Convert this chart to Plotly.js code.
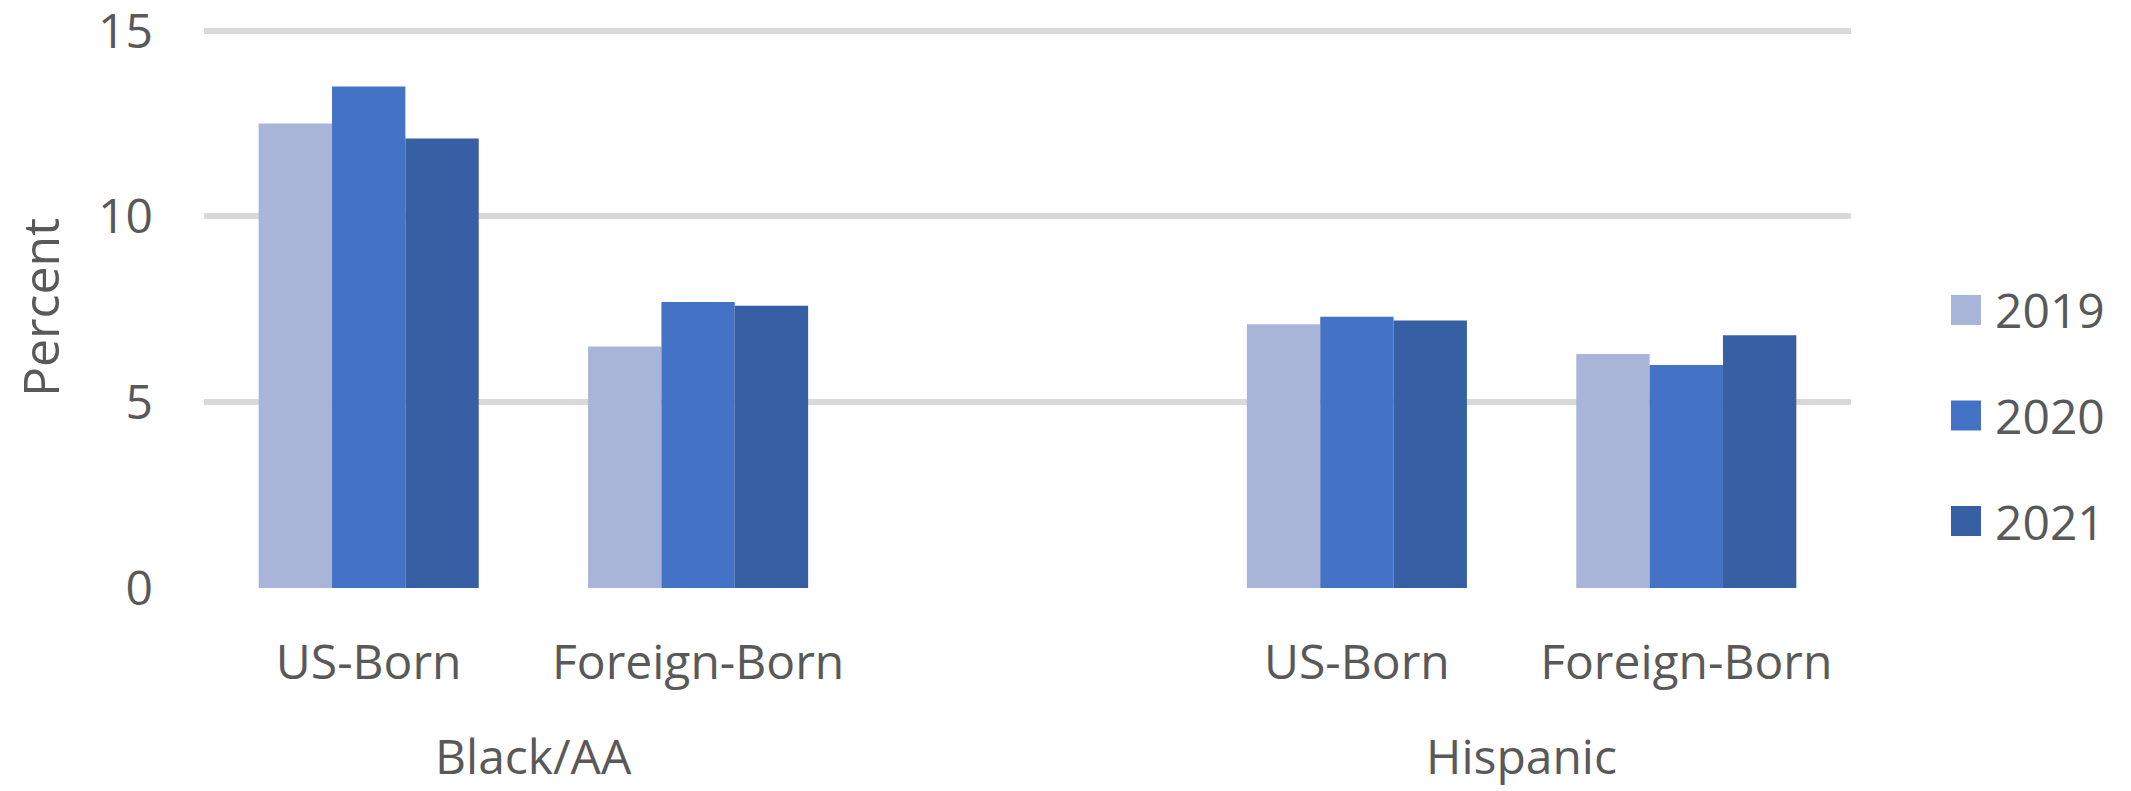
<!DOCTYPE html>
<html><head><meta charset="utf-8">
<script src="https://cdn.plot.ly/plotly-3.0.1.min.js"></script>
<style>html,body{margin:0;padding:0;background:#fff;}#chart{width:2131px;height:791px;}</style>
</head><body><div id="chart"></div>
<script>
// ---- data ----
const groups = ["Black/AA", "Hispanic"];
const subgroups = ["US-Born", "Foreign-Born"];
const years = ["2019", "2020", "2021"];
// order: Black/AA US-Born, Black/AA Foreign-Born, Hispanic US-Born, Hispanic Foreign-Born
const values2019 = [12.5, 6.5, 7.1, 6.3];
const values2020 = [13.5, 7.7, 7.3, 6.0];
const values2021 = [12.1, 7.6, 7.2, 6.8];
const yTickValues = [0, 5, 10, 15];
const yAxisLabel = "Percent";

// ---- styles ----
const colors = ["#a8b5d9", "#4472c4", "#375fa3"];
const textColor = "#595959";
const fontFamily = "'Open Sans', 'Noto Sans', sans-serif";
const fontSize = 48;

// build categories with a blank spacer between groups
const SPACER = " ";
const categories = [];
const realKeys = [];
const realLabels = [];
const groupIndex = {};
groups.forEach((g, gi) => {
  if (gi > 0) categories.push(SPACER);
  groupIndex[g] = [];
  subgroups.forEach(s => {
    const key = g + "|" + s;
    groupIndex[g].push(categories.length);
    categories.push(key);
    realKeys.push(key);
    realLabels.push(s);
  });
});
function expand(vals) {
  const out = [];
  let k = 0;
  categories.forEach(c => { out.push(c === SPACER ? null : vals[k++]); });
  return out;
}
const seriesValues = [values2019, values2020, values2021];
const traces = years.map((yr, i) => ({
  type: "bar",
  name: yr,
  x: categories,
  y: expand(seriesValues[i]),
  marker: { color: colors[i], line: { width: 0 } },
  showlegend: false,
  hoverinfo: "x+y+name"
}));

const W = 2131, H = 791;
const margin = { l: 204, r: 280, t: 27, b: 203, pad: 0 };
const plotW = W - margin.l - margin.r;
const plotH = H - margin.t - margin.b;

const annotations = groups.map(g => {
  const idx = groupIndex[g];
  return {
    text: g, xref: "x", yref: "paper",
    x: idx.reduce((a, b) => a + b, 0) / idx.length,
    y: -(755 - (margin.t + plotH)) / plotH,
    xanchor: "center", yanchor: "middle", showarrow: false,
    font: { family: fontFamily, size: fontSize, color: textColor }
  };
});

// custom legend (large swatches)
const shapes = [];
years.forEach((yr, i) => {
  const cy = 310 + i * 105.5;
  const yPaper = (margin.t + plotH - cy) / plotH;
  shapes.push({
    type: "rect", xref: "paper", yref: "paper",
    xsizemode: "pixel", ysizemode: "pixel",
    xanchor: (1951 - margin.l) / plotW, yanchor: yPaper,
    x0: 0, x1: 30, y0: -15, y1: 15,
    fillcolor: colors[i], line: { width: 0 }
  });
  annotations.push({
    text: yr, xref: "paper", yref: "paper",
    x: (1993 - margin.l) / plotW, y: yPaper,
    xanchor: "left", yanchor: "middle", showarrow: false,
    font: { family: fontFamily, size: fontSize, color: textColor }
  });
});

const layout = {
  width: W, height: H, margin: margin,
  paper_bgcolor: "#ffffff", plot_bgcolor: "#ffffff",
  font: { family: fontFamily, size: fontSize, color: textColor },
  showlegend: false,
  bargap: 0.332, bargroupgap: 0, barmode: "group",
  xaxis: {
    type: "category", categoryorder: "array", categoryarray: categories,
    range: [-0.5, categories.length - 0.5],
    tickvals: realKeys, ticktext: realLabels,
    showgrid: false, zeroline: false, showline: false, ticks: "",
    ticklabelstandoff: 42,
    tickfont: { family: fontFamily, size: fontSize, color: textColor },
    fixedrange: true
  },
  yaxis: {
    range: [0, 15.1], tickvals: yTickValues, ticktext: yTickValues.map(String),
    showgrid: true, gridcolor: "#d9d9d9", gridwidth: 6,
    zeroline: false, showline: false, ticks: "",
    ticklabelstandoff: 50, ticklabeloverflow: "allow",
    tickfont: { family: fontFamily, size: fontSize, color: textColor },
    title: { text: yAxisLabel, standoff: 22, font: { family: fontFamily, size: 50, color: textColor } },
    fixedrange: true
  },
  annotations: annotations,
  shapes: shapes
};

Plotly.newPlot("chart", traces, layout, { displayModeBar: false, staticPlot: true });
</script>
</body></html>
